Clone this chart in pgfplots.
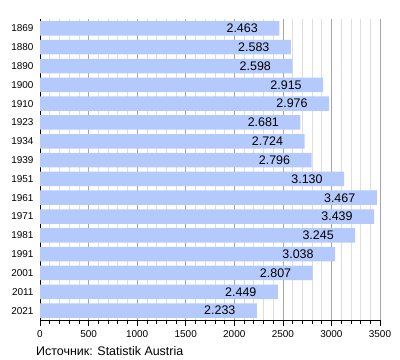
\documentclass[border=0pt]{standalone}
\usepackage{pgfplots}
\pgfplotsset{compat=1.18}
\usepackage{fontspec}
\setmainfont{Liberation Sans}
\definecolor{barblue}{RGB}{180,202,252}
\definecolor{majgrid}{RGB}{165,165,165}
\definecolor{mingrid}{RGB}{222,222,222}
\begin{document}
\begin{tikzpicture}[x=1bp,y=1bp]
\useasboundingbox (0,0) rectangle (400,360);
\begin{axis}[
  at={(40bp,40bp)}, anchor=south west,
  scale only axis, width=340bp, height=301bp,
  xbar, bar width=14.5bp, bar shift=0pt,
  xmin=0, xmax=3500, ymin=-0.5, ymax=15.5,
  y dir=reverse,
  ytick={0,...,15},
  yticklabels={1869,1880,1890,1900,1910,1923,1934,1939,1951,1961,1971,1981,1991,2001,2011,2021},
  xtick={0,500,...,3500},
  minor x tick num=4,
  axis x line*=bottom, axis y line*=left,
  axis line style={black, line width=0.8pt, -},
  xmajorgrids, xminorgrids,
  major grid style={majgrid, line width=0.6pt},
  minor grid style={mingrid, line width=0.6pt},
  tick align=outside,
  major tick length=6bp, minor tick length=4bp,
  tick style={black, line width=0.6pt},
  ytick style={draw=none},
  /pgf/number format/assume math mode=true,
  /pgf/number format/1000 sep={},
  ticklabel style={font=\fontsize{10}{12}\selectfont},
  yticklabel style={xshift=3bp},
  xticklabel style={yshift=-1bp},
  point meta=explicit symbolic,
  nodes near coords,
  every node near coord/.append style={anchor=east, xshift=-18bp, font=\fontsize{12.5}{14}\selectfont, text=black},
  clip=false,
]
\addplot[fill=barblue, draw=none] coordinates {
  (2463,0) [2.463]
  (2583,1) [2.583]
  (2598,2) [2.598]
  (2915,3) [2.915]
  (2976,4) [2.976]
  (2681,5) [2.681]
  (2724,6) [2.724]
  (2796,7) [2.796]
  (3130,8) [3.130]
  (3467,9) [3.467]
  (3439,10) [3.439]
  (3245,11) [3.245]
  (3038,12) [3.038]
  (2807,13) [2.807]
  (2449,14) [2.449]
  (2233,15) [2.233]
};
\end{axis}
\node[anchor=base west, font=\fontsize{12.5}{15}\selectfont, inner sep=0pt] at (36,5) {Источник: Statistik Austria};
\end{tikzpicture}
\end{document}
